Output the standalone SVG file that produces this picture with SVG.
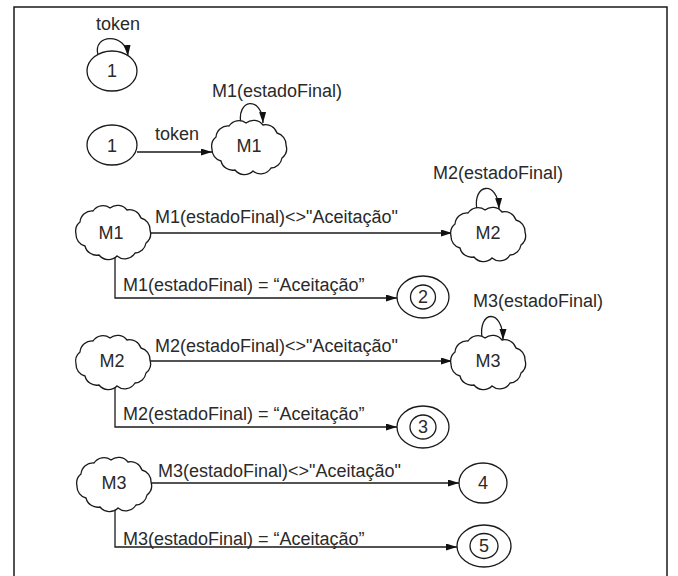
<svg xmlns="http://www.w3.org/2000/svg" width="678" height="576" viewBox="0 0 678 576">
<style>
.ln{fill:none;stroke:#1a1a1a;stroke-width:1.3}
.nd{fill:#fff;stroke:#1a1a1a;stroke-width:1.3}
.tx{font-family:"Liberation Sans",Arial,sans-serif;font-size:18px;fill:#2a2a2a}
.c{text-anchor:middle}
</style>
<defs>
<marker id="arr" markerUnits="userSpaceOnUse" markerWidth="12" markerHeight="8" refX="11" refY="3.5" orient="auto">
<path d="M0,0 L11,3.5 L0,7 z" fill="#111"/>
</marker>
<path id="cloud" d="M-33,-9 A12,12 0 0 1 -20,-20 A12,12 0 0 1 -3,-23 A12,12 0 0 1 14,-21 A12,12 0 0 1 28,-13 A12,12 0 0 1 37,-1 A12,12 0 0 1 33,12 A12,12 0 0 1 22,22 A12,12 0 0 1 4,25 A12,12 0 0 1 -14,24 A12,12 0 0 1 -28,15 A12,12 0 0 1 -37,3 A12,12 0 0 1 -33,-9 Z"/>
</defs>
<rect x="14" y="7" width="653" height="580" fill="#fff" stroke="#1a1a1a" stroke-width="1.5"/>

<g id="connectors">
<path class="ln" d="M98,55 C92,34 126,32 128,56" marker-end="url(#arr)"/>
<text class="tx" x="96" y="30">token</text>
<path class="ln" d="M137,152 L212,152" marker-end="url(#arr)"/>
<text class="tx" x="155" y="140">token</text>
<path class="ln" d="M241,124 C236,99 262,95 263,123" marker-end="url(#arr)"/>
<text class="tx" x="212" y="97">M1(estadoFinal)</text>

<path class="ln" d="M150,233 L452,233" marker-end="url(#arr)"/>
<text class="tx" x="155" y="223">M1(estadoFinal)&lt;&gt;"Aceitação"</text>
<path class="ln" d="M115,256 L115,298 L397,298" marker-end="url(#arr)"/>
<text class="tx" x="123" y="291">M1(estadoFinal) = “Aceitação”</text>
<path class="ln" d="M477,210 C472,183 498,180 499,209" marker-end="url(#arr)"/>
<text class="tx" x="433" y="179">M2(estadoFinal)</text>

<path class="ln" d="M150,361 L452,361" marker-end="url(#arr)"/>
<text class="tx" x="155" y="352">M2(estadoFinal)&lt;&gt;"Aceitação"</text>
<path class="ln" d="M115,386 L115,427 L397,427" marker-end="url(#arr)"/>
<text class="tx" x="123" y="420">M2(estadoFinal) = “Aceitação”</text>
<path class="ln" d="M482,338 C478,310 503,308 503,340" marker-end="url(#arr)"/>
<text class="tx" x="473" y="307">M3(estadoFinal)</text>

<path class="ln" d="M150,483 L459,483" marker-end="url(#arr)"/>
<text class="tx" x="158" y="477">M3(estadoFinal)&lt;&gt;"Aceitação"</text>
<path class="ln" d="M115,508 L115,547 L457,547" marker-end="url(#arr)"/>
<text class="tx" x="123" y="545">M3(estadoFinal) = “Aceitação”</text>
</g>

<g id="n1a"><ellipse class="nd" cx="112" cy="71" rx="25" ry="20"/><text class="tx c" x="112" y="77">1</text></g>
<g id="n1b"><ellipse class="nd" cx="112" cy="145" rx="25" ry="20"/><text class="tx c" x="112" y="152">1</text></g>
<g id="m1a"><use href="#cloud" class="nd" transform="translate(249,146)"/><text class="tx c" x="249" y="152">M1</text></g>
<g id="m1b"><use href="#cloud" class="nd" transform="translate(113,231)"/><text class="tx c" x="111" y="239">M1</text></g>
<g id="m2a"><use href="#cloud" class="nd" transform="translate(488,233)"/><text class="tx c" x="488" y="239">M2</text></g>
<g id="s2"><ellipse class="nd" cx="423" cy="297" rx="26" ry="21"/><ellipse class="nd" cx="423" cy="297" rx="12.5" ry="12"/><text class="tx c" x="423" y="303">2</text></g>
<g id="m2b"><use href="#cloud" class="nd" transform="translate(113,361)"/><text class="tx c" x="112" y="367">M2</text></g>
<g id="m3a"><use href="#cloud" class="nd" transform="translate(488,361)"/><text class="tx c" x="488" y="367">M3</text></g>
<g id="s3"><ellipse class="nd" cx="423" cy="427" rx="26" ry="21"/><ellipse class="nd" cx="423" cy="427" rx="13" ry="12"/><text class="tx c" x="423" y="433">3</text></g>
<g id="m3b"><use href="#cloud" class="nd" transform="translate(114,483)"/><text class="tx c" x="114" y="489">M3</text></g>
<g id="s4"><ellipse class="nd" cx="483" cy="483" rx="24" ry="20"/><text class="tx c" x="483" y="489">4</text></g>
<g id="s5"><ellipse class="nd" cx="484" cy="546" rx="27" ry="21"/><ellipse class="nd" cx="484" cy="546" rx="14" ry="12.5"/><text class="tx c" x="484" y="552">5</text></g>
</svg>
